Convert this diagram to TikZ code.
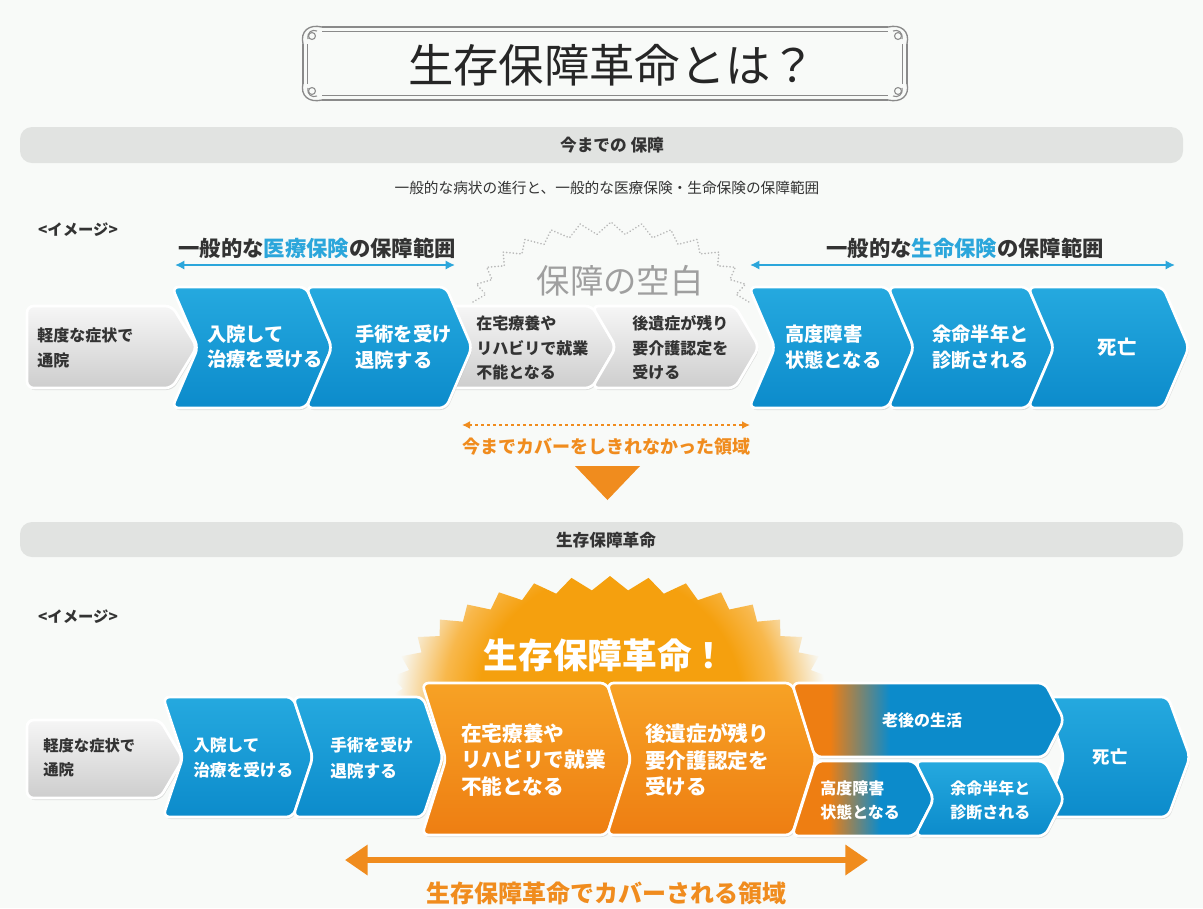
\documentclass[tikz,border=0pt]{standalone}
\usepackage{fontspec}
\setmainfont{Noto Sans CJK JP}
\usepackage{tikz}
\usetikzlibrary{arrows.meta,shadows}
\definecolor{bgc}{HTML}{F8FAF8}
\definecolor{barc}{HTML}{E1E3E1}
\definecolor{bluet}{HTML}{25A9DF}
\definecolor{blueb}{HTML}{0C8BCB}
\definecolor{hdblue}{HTML}{2BA6DB}
\definecolor{grayt}{HTML}{F6F6F6}
\definecolor{grayb}{HTML}{CDCDCD}
\definecolor{orat}{HTML}{F7A225}
\definecolor{orab}{HTML}{EE7E12}
\definecolor{orac}{HTML}{F08C1E}
\definecolor{glowc}{HTML}{F5A00E}
\definecolor{glowm}{HTML}{F8B84C}
\definecolor{framec}{HTML}{8A8A8A}
\definecolor{txt}{HTML}{333333}
% tikz maps the middle 50bp of a shading onto the path
\pgfdeclareradialshading{glow}{\pgfpointorigin}{color(0bp)=(glowc); color(15bp)=(glowc); color(19bp)=(glowm); color(24.5bp)=(bgc); color(50bp)=(bgc)}
\pgfdeclarehorizontalshading{agefade}{100bp}{color(0bp)=(orab); color(32bp)=(orab); color(43bp)=(blueb); color(100bp)=(blueb)}
\pgfdeclarehorizontalshading{sevfade}{100bp}{color(0bp)=(orab); color(38bp)=(orab); color(56bp)=(blueb); color(100bp)=(blueb)}

\begin{document}
\begin{tikzpicture}[x=0.75pt,y=-0.75pt,
 chev/.style={draw=white,line width=2pt,rounded corners=5pt,drop shadow={shadow xshift=0.8pt,shadow yshift=-1.5pt,opacity=0.25}},
 bluechev/.style={chev,top color=bluet,bottom color=blueb},
 graychev/.style={chev,top color=grayt,bottom color=grayb},
 orachev/.style={chev,top color=orat,bottom color=orab},
 wtxt/.style={text=white,inner sep=0pt,align=left,font=\bfseries\fontsize{14.5}{19}\selectfont},
 gtxt/.style={text=txt,inner sep=0pt,align=left,font=\bfseries\fontsize{12}{18.4}\selectfont},
 bartxt/.style={text=txt,font=\bfseries\fontsize{12.5}{15}\selectfont},
 imgtxt/.style={text=txt,font=\bfseries\fontsize{11.5}{14}\selectfont},
 hdtxt/.style={text=txt,font=\bfseries\fontsize{16}{19}\selectfont},
 oratxt/.style={text=orac,font=\bfseries\fontsize{13.5}{16}\selectfont},
 bluearr/.style={hdblue,line width=2.2pt,{Latex[length=7pt,width=7pt]}-{Latex[length=7pt,width=7pt]}}]
\useasboundingbox (0,0) rectangle (1203,908);
\fill[bgc] (0,0) rectangle (1203,908);

% title frame
\draw[framec,line width=2pt] (322,27)--(888,27) (322,100)--(888,100);
\draw[framec,line width=0.6pt] (322,31.5)--(888,31.5) (322,95.5)--(888,95.5);
\draw[framec,line width=1.6pt] (303,44)--(303,84) (907,44)--(907,84);
\draw[framec,line width=0.6pt] (307.5,44)--(307.5,84) (902.5,44)--(902.5,84);
\foreach \cx/\cy/\sx/\sy in {303/27/1/1,907/27/-1/1,303/100/1/-1,907/100/-1/-1}{
 \draw[framec,line width=1pt] (\cx+19*\sx,\cy) .. controls (\cx+6*\sx,\cy-3*\sy) and (\cx-3*\sx,\cy+4*\sy) .. (\cx,\cy+17*\sy);
 \draw[framec,line width=0.8pt] (\cx+9*\sx,\cy+9*\sy) circle[radius=2.6pt];
 \draw[framec,line width=0.8pt] (\cx+14*\sx,\cy+4*\sy) .. controls (\cx+9*\sx,\cy+2*\sy) and (\cx+4*\sx,\cy+5*\sy) .. (\cx+5*\sx,\cy+12*\sy);
}
\node[font=\fontsize{34}{40}\selectfont,text=black!85] (title) at (612,65) {生存保障革命とは？};

% upper part
\fill[barc,rounded corners=9pt] (20,127) rectangle (1183,163);
\node[bartxt] (now) at (612,145) {今までの 保障};
\node[text=txt,font=\fontsize{11}{13}\selectfont] (sub) at (607,188) {一般的な病状の進行と、一般的な医療保険・生命保険の保障範囲};
\node[imgtxt] (img1) at (78,230) {<イメージ>};
\node[hdtxt] (med) at (317,248) {一般的な{\color{hdblue}医療保険}の保障範囲};
\node[hdtxt] (life) at (965,248) {一般的な{\color{hdblue}生命保険}の保障範囲};
\coordinate (medL) at (175,265);
\coordinate (medR) at (455,265);
\coordinate (lifeL) at (750,265);
\coordinate (lifeR) at (1175,265);
\draw[bluearr] (medL)--(medR);
\draw[bluearr] (lifeL)--(lifeR);
\draw[gray!55,line width=1.3pt,dash pattern=on 0.1pt off 2.4pt,line cap=round]
 plot[samples at={0,...,28},variable=\i] ({611+(138-12*mod(\i,2))*cos(180-\i*180/28)},{302-(80-12*mod(\i,2))*sin(180-\i*180/28)});
\node[text=gray!75,font=\fontsize{25}{28}\selectfont] (blank) at (620,281) {保障の空白};

\path[graychev] (27,306)--(172,306)--(197,347)--(172,388)--(27,388)--cycle;
\foreach \a/\b in {446/592,592/735}
 \path[graychev] (\a,306)--(\b,306)--(\b+24,347)--(\b,388)--(\a,388)--(\a+24,347)--cycle;
\foreach \a/\b in {172/306,306/446,749/888,888/1028,1028/1163}
 \path[bluechev] (\a,287)--(\b,287)--(\b+26,347.5)--(\b,408)--(\a,408)--(\a+26,347.5)--cycle;
\node[gtxt,anchor=west] (u1) at (37,348) {軽度な症状で\\通院};
\node[wtxt,anchor=west] (u2) at (207,347) {入院して\\治療を受ける};
\node[wtxt,anchor=west] (u3) at (355,347) {手術を受け\\退院する};
\node[gtxt,anchor=west] (u4) at (476,348) {在宅療養や\\リハビリで就業\\不能となる};
\node[gtxt,anchor=west] (u5) at (632,348) {後遺症が残り\\要介護認定を\\受ける};
\node[wtxt,anchor=west] (u6) at (785,347) {高度障害\\状態となる};
\node[wtxt,anchor=west] (u7) at (932,347) {余命半年と\\診断される};
\node[wtxt] (u8) at (1117,347) {死亡};

% gap
\coordinate (gapL) at (462,425);
\coordinate (gapR) at (750,425);
\draw[orac,line width=1.5pt,dash pattern=on 2pt off 2.5pt,{Latex[length=6pt,width=6pt]}-{Latex[length=6pt,width=6pt]}] (gapL)--(gapR);
\node[oratxt] (gap) at (606,447) {今までカバーをしきれなかった領域};
\fill[orac] (575,466)--(640,466)--(607.5,500)--cycle;

% lower part
\fill[barc,rounded corners=9pt] (20,522) rectangle (1183,557);
\node[bartxt] (rev) at (606,540) {生存保障革命};
\node[imgtxt] (img2) at (78,617) {<イメージ>};
\begin{scope}
 \clip plot[samples at={0,...,71},variable=\i] ({610+(222-14*mod(\i,2))*cos(\i*5)},{698-(122-14*mod(\i,2))*sin(\i*5)})--cycle;
 \shade[shading=glow] (610,705) circle[radius=165pt];
\end{scope}
\node[text=white,font=\bfseries\fontsize{26}{30}\selectfont] (burst) at (605,655) {生存保障革命！};

\path[graychev] (27,720)--(160,720)--(183,759)--(160,798)--(27,798)--cycle;
\foreach \a/\b in {163/293,293/423}
 \path[bluechev] (\a,697)--(\b,697)--(\b+20,757)--(\b,817)--(\a,817)--(\a+20,757)--cycle;
\foreach \a/\b in {422/607,607/792}
 \path[orachev] (\a,683)--(\b,683)--(\b+24,759)--(\b,835)--(\a,835)--(\a+24,759)--cycle;
\path[bluechev] (1045,697)--(1168,697)--(1190,757)--(1168,817)--(1045,817)--(1064,757)--cycle;
\path[chev,shading=agefade] (792,683)--(1045,683)--(1064,720)--(1045,757)--(815,757)--cycle;
\path[chev,shading=sevfade] (816,761)--(915,761)--(934,799)--(915,836)--(792,836)--cycle;
\path[bluechev] (915,761)--(1045,761)--(1064,799)--(1045,836)--(915,836)--(934,799)--cycle;

\node[gtxt,anchor=west,font=\bfseries\fontsize{11.5}{18}\selectfont] (l1) at (43,758) {軽度な症状で\\通院};
\node[wtxt,anchor=west,font=\bfseries\fontsize{12.5}{19}\selectfont] (l2) at (193,758) {入院して\\治療を受ける};
\node[wtxt,anchor=west,font=\bfseries\fontsize{12.5}{19}\selectfont] (l3) at (330,758) {手術を受け\\退院する};
\node[wtxt,anchor=west,font=\bfseries\fontsize{15.5}{20}\selectfont] (l4) at (461,760) {在宅療養や\\リハビリで就業\\不能となる};
\node[wtxt,anchor=west,font=\bfseries\fontsize{15.5}{20}\selectfont] (l5) at (645,760) {後遺症が残り\\要介護認定を\\受ける};
\node[wtxt,font=\bfseries\fontsize{12}{18}\selectfont] (l6) at (922,720) {老後の生活};
\node[wtxt,anchor=west,font=\bfseries\fontsize{12}{18}\selectfont] (l7) at (820,800) {高度障害\\状態となる};
\node[wtxt,anchor=west,font=\bfseries\fontsize{12}{18}\selectfont] (l8) at (950,800) {余命半年と\\診断される};
\node[wtxt,font=\bfseries\fontsize{13}{18}\selectfont] (l9) at (1110,757) {死亡};

\coordinate (covL) at (345,860);
\coordinate (covR) at (868,860);
\draw[orac,line width=4.5pt,{Triangle[length=17pt,width=22pt]}-{Triangle[length=17pt,width=22pt]}] (covL)--(covR);
\node[oratxt,font=\bfseries\fontsize{18}{21}\selectfont] (cov) at (606,893) {生存保障革命でカバーされる領域};
\end{tikzpicture}
\end{document}
